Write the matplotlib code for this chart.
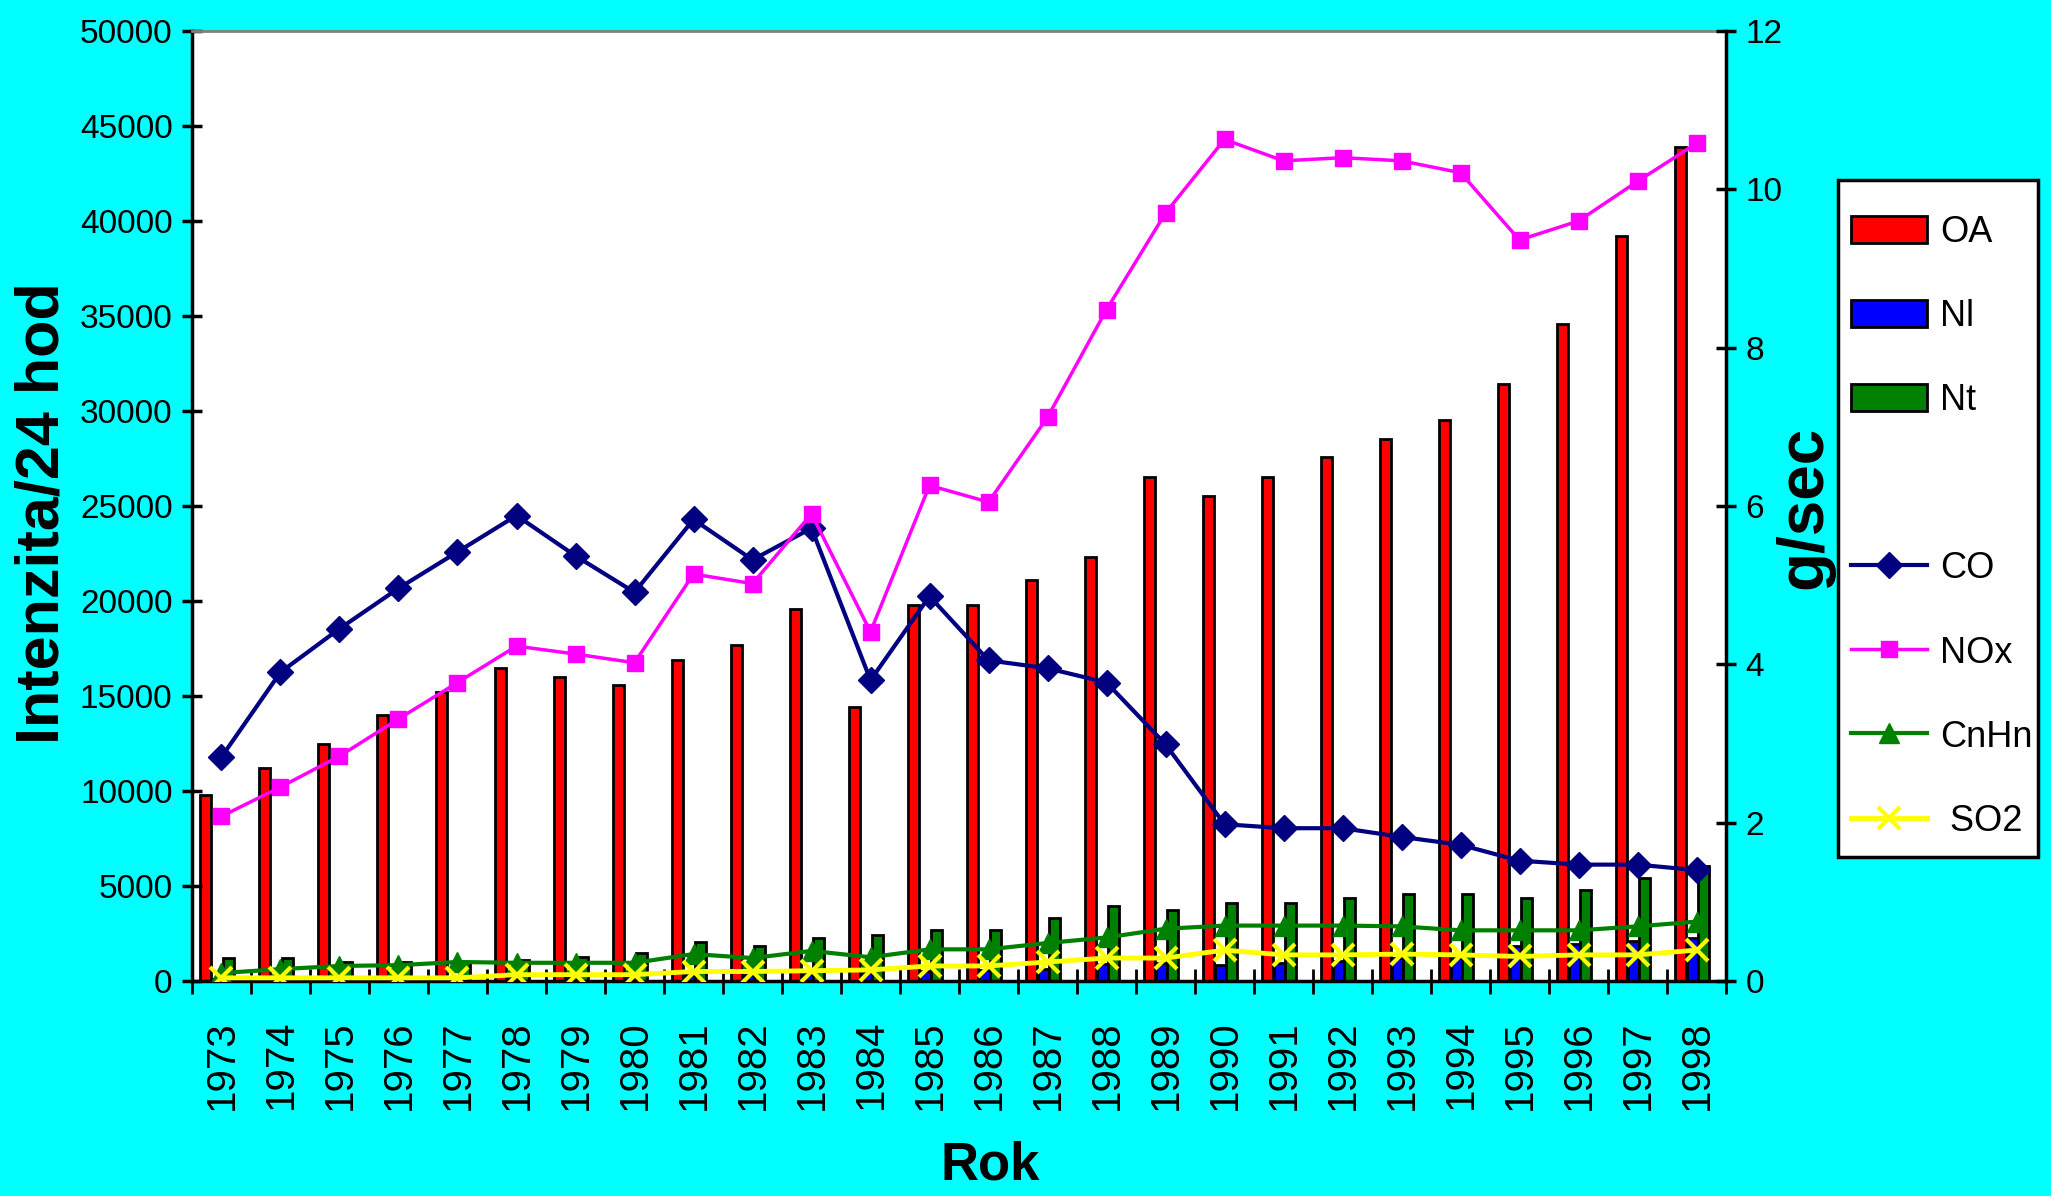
import matplotlib
matplotlib.use("Agg")
import matplotlib.pyplot as plt
from matplotlib.lines import Line2D
from matplotlib.patches import Rectangle
import numpy as np

# Data
years = list(range(1973, 1999))

# left axis (Intenzita/24 hod) - bars
OA = [9800, 11200, 12500, 14000, 15200, 16500, 16000, 15600, 16900, 17700,
      19600, 14400, 19800, 19800, 21100, 22300, 26500, 25500, 26500, 27600,
      28500, 29500, 31400, 34600, 39200, 43900]
Nl = [100, 120, 150, 150, 150, 200, 200, 250, 300, 300,
      350, 450, 550, 600, 650, 880, 960, 850, 960, 1050,
      1230, 1230, 1840, 1930, 2100, 2280]
Nt = [1200, 1200, 1000, 1000, 1000, 1100, 1250, 1450, 2050, 1850,
      2250, 2400, 2700, 2700, 3300, 3950, 3720, 4120, 4120, 4350,
      4560, 4560, 4350, 4770, 5400, 6050]

# right axis (g/sec) - lines
CO = [2.83, 3.90, 4.45, 4.96, 5.42, 5.88, 5.37, 4.91, 5.83, 5.32,
      5.72, 3.80, 4.86, 4.05, 3.95, 3.77, 2.99, 1.98, 1.93, 1.93,
      1.82, 1.72, 1.52, 1.47, 1.47, 1.40]
NOx = [2.08, 2.45, 2.84, 3.31, 3.77, 4.23, 4.13, 4.02, 5.14, 5.02,
       5.90, 4.41, 6.26, 6.05, 7.12, 8.48, 9.70, 10.63, 10.36, 10.40,
       10.36, 10.21, 9.36, 9.60, 10.10, 10.58]
CnHn = [0.10, 0.15, 0.19, 0.20, 0.24, 0.23, 0.23, 0.23, 0.34, 0.29,
        0.38, 0.30, 0.40, 0.40, 0.48, 0.55, 0.66, 0.70, 0.70, 0.70,
        0.69, 0.64, 0.64, 0.64, 0.69, 0.75]
SO2 = [0.04, 0.04, 0.04, 0.04, 0.04, 0.08, 0.08, 0.08, 0.12, 0.12,
       0.13, 0.14, 0.19, 0.19, 0.24, 0.29, 0.29, 0.39, 0.33, 0.33,
       0.34, 0.33, 0.31, 0.33, 0.33, 0.39]

plt.rcParams['font.family'] = ['Liberation Sans', 'DejaVu Sans']

W, H = 2051, 1196
fig = plt.figure(figsize=(W / 100, H / 100), dpi=100, facecolor='#00FFFF')
ax = fig.add_axes([192 / W, 1 - 981 / H, (1726 - 192) / W, (981 - 31) / H])
ax.set_facecolor('white')

x = np.arange(len(years))
w = 0.19
b_oa = ax.bar(x - 0.27, OA, w, color='#FF0000', edgecolor='black', linewidth=2, label='OA')
b_nl = ax.bar(x - 0.07, Nl, w, color='#0000FF', edgecolor='black', linewidth=2, label='Nl')
b_nt = ax.bar(x + 0.115, Nt, w, color='#008000', edgecolor='black', linewidth=2, label='Nt')

ax.set_xlim(-0.5, len(years) - 0.5)
ax.set_ylim(0, 50000)
ax.set_yticks(np.arange(0, 50001, 5000))
ax.tick_params(axis='y', direction='inout', length=14, width=2.5, labelsize=24, pad=7)

# ticks between categories, year labels centred under them
ax.set_xticks(np.arange(-0.5, len(years), 1))
ax.set_xticklabels([])
ax.set_xticks(x, minor=True)
ax.set_xticklabels([str(y) for y in years], minor=True, rotation=90, fontsize=29)
ax.tick_params(axis='x', which='major', direction='inout', length=18, width=2)
ax.tick_params(axis='x', which='minor', length=0, pad=28)

ax.spines['left'].set_linewidth(2.5)
ax.spines['bottom'].set_linewidth(2.5)
ax.spines['top'].set_color('grey')
ax.spines['top'].set_linewidth(2)
ax.spines['right'].set_visible(False)

# right axis with the emission lines
ax2 = ax.twinx()
ax2.set_ylim(0, 12)
ax2.set_yticks(np.arange(0, 13, 2))
ax2.tick_params(axis='y', direction='inout', length=14, width=2.5, labelsize=24, pad=7)
for s in ['left', 'top', 'bottom']:
    ax2.spines[s].set_visible(False)
ax2.spines['right'].set_linewidth(2.5)

l_co, = ax2.plot(x, CO, '-D', color='#000080', lw=3, ms=13, label='CO')
l_nox, = ax2.plot(x, NOx, '-s', color='#FF00FF', lw=2.5, ms=12, label='NOx')
l_cn, = ax2.plot(x, CnHn, '-^', color='#008000', lw=3, ms=14, label='CnHn')
l_so2, = ax2.plot(x, SO2, '-x', color='#FFFF00', lw=3.5, ms=16, mew=3, label=' SO2')

# legend box drawn by hand so the entries can sit where they do in the original
fig.patches.append(Rectangle((1838 / W, 1 - 857 / H), 200 / W, (857 - 180) / H,
                             transform=fig.transFigure, facecolor='white',
                             edgecolor='black', linewidth=2.5, zorder=-1))
blank = Line2D([], [], color='none', label=' ')
handles = [b_oa, b_nl, b_nt, blank, l_co, l_nox, l_cn, l_so2]
leg = ax2.legend(handles=handles, labels=[h.get_label() for h in handles],
                 loc='upper left', bbox_to_anchor=(1851 / W, 1 - 215 / H),
                 bbox_transform=fig.transFigure, borderaxespad=0, borderpad=0,
                 frameon=False, fontsize=26, labelspacing=1.36,
                 handlelength=2.1, handleheight=0.8, handletextpad=0.36)

# axis titles
fig.text(43 / W, 1 - 513 / H, 'Intenzita/24 hod', rotation=90, ha='center', va='center',
         fontsize=44, fontweight='bold')
fig.text(1804 / W, 1 - 507 / H, 'g/sec', rotation=90, ha='center', va='center',
         fontsize=46, fontweight='bold')
fig.text(990 / W, 1 - 1165 / H, 'Rok', ha='center', va='center', fontsize=38,
         fontweight='bold')

fig.savefig('out.png', dpi=100, facecolor=fig.get_facecolor())
